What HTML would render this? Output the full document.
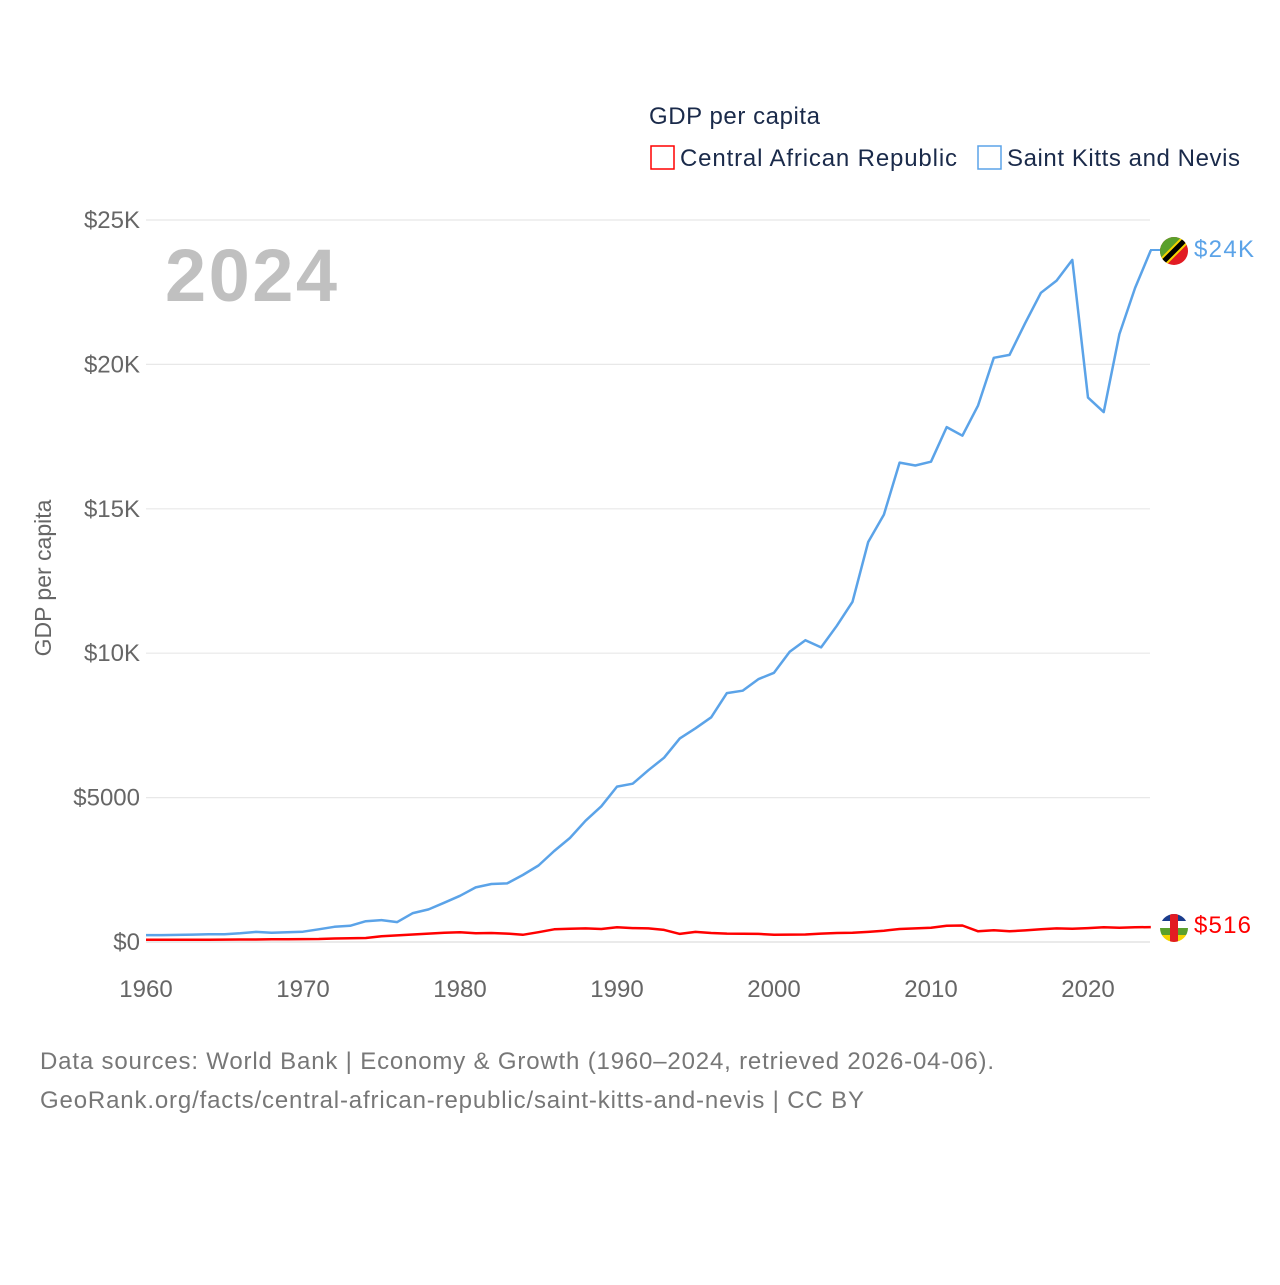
<!DOCTYPE html>
<html><head><meta charset="utf-8"><style>
html,body{margin:0;padding:0;background:#fff;}
svg text{font-family:"Liberation Sans",sans-serif;}
</style></head><body>
<svg id="chart" width="1280" height="1280" xmlns="http://www.w3.org/2000/svg">
<text x="649" y="124" font-size="24" fill="#1a2a4a" textLength="171">GDP per capita</text>
<rect x="651" y="146" width="23" height="23" fill="none" stroke="#ff0000" stroke-width="1.5"/>
<text x="680" y="166" font-size="24" fill="#1a2a4a" textLength="277">Central African Republic</text>
<rect x="978" y="146" width="23" height="23" fill="none" stroke="#5ba3e8" stroke-width="1.5"/>
<text x="1007" y="166" font-size="24" fill="#1a2a4a" textLength="233">Saint Kitts and Nevis</text>
<g id="grid"></g>
<text x="165" y="301" font-size="74" font-weight="bold" fill="#c0c0c0" textLength="172">2024</text>
<text transform="translate(51,578) rotate(-90)" text-anchor="middle" font-size="23" fill="#666">GDP per capita</text>
<g id="series"></g>
<line x1="1150" y1="250" x2="1162" y2="250" stroke="#5ba3e8" stroke-width="2"/>
<g>
<clipPath id="c1"><circle cx="1174" cy="251" r="14"/></clipPath>
<g clip-path="url(#c1)"><rect x="1160" y="237" width="28" height="28" fill="#e21b23"/><polygon points="1160,237 1188,237 1160,265" fill="#5aa02c"/><line x1="1158" y1="267" x2="1190" y2="235" stroke="#f4d400" stroke-width="9"/><line x1="1158" y1="267" x2="1190" y2="235" stroke="#000" stroke-width="5"/></g>
</g>
<g>
<clipPath id="c2"><circle cx="1174" cy="928" r="14"/></clipPath>
<g clip-path="url(#c2)"><rect x="1160" y="914" width="28" height="7" fill="#1b3c8c"/><rect x="1160" y="921" width="28" height="7" fill="#fff"/><rect x="1160" y="928" width="28" height="7" fill="#5aa02c"/><rect x="1160" y="935" width="28" height="7" fill="#f4d400"/><rect x="1170" y="914" width="8" height="28" fill="#e21b23"/></g>
</g>
<text x="1194" y="257" font-size="24" fill="#5ba3e8" textLength="60">$24K</text>
<text x="1194" y="933" font-size="24" fill="#ff0000" textLength="57">$516</text>
<text x="40" y="1069" font-size="24" fill="#777" textLength="954">Data sources: World Bank | Economy &amp; Growth (1960–2024, retrieved 2026-04-06).</text>
<text x="40" y="1108" font-size="24" fill="#777" textLength="824">GeoRank.org/facts/central-african-republic/saint-kitts-and-nevis | CC BY</text>
</svg>
<script>
const years = [];
for (let y = 1960; y <= 2024; y++) years.push(y);
const sknValues = [240,240,245,255,265,270,300,350,320,340,355,440,525,560,720,760,690,1000,1130,1360,1600,1890,2010,2030,2320,2650,3150,3600,4200,4700,5380,5480,5950,6380,7050,7400,7780,8620,8700,9100,9320,10050,10450,10200,10950,11780,13850,14800,16600,16500,16630,17830,17530,18580,20230,20330,21430,22480,22900,23620,18850,18350,21050,22650,23950];
const carValues = [80,80,78,78,80,82,85,88,92,95,100,105,120,130,140,200,230,260,290,320,340,300,310,290,250,340,440,460,470,450,510,480,470,420,280,350,310,290,285,280,250,255,260,290,310,320,350,390,450,470,490,560,570,370,410,370,400,440,470,460,480,510,490,510,516];
const yTicks = [0,5000,10000,15000,20000,25000];
const yTickLabels = ["$0","$5000","$10K","$15K","$20K","$25K"];
const xTicks = [1960,1970,1980,1990,2000,2010,2020];
const NS = "http://www.w3.org/2000/svg";
const xS = y => 146 + (y - 1960) * (1088 - 146) / 60;
const yS = v => 942 - v * (942 - 220) / 25000;
const grid = document.getElementById('grid');
yTicks.forEach((t, i) => {
  const l = document.createElementNS(NS, 'line');
  l.setAttribute('x1', 146); l.setAttribute('x2', 1150);
  l.setAttribute('y1', yS(t)); l.setAttribute('y2', yS(t));
  l.setAttribute('stroke', t === 0 ? '#ddd' : '#e8e8e8'); l.setAttribute('stroke-width', 1.2);
  
  
  grid.appendChild(l);
  const tx = document.createElementNS(NS, 'text');
  tx.setAttribute('x', 140); tx.setAttribute('y', yS(t) + 8);
  tx.setAttribute('text-anchor', 'end'); tx.setAttribute('font-size', '24'); tx.setAttribute('fill', '#666');
  tx.textContent = yTickLabels[i];
  
  
  grid.appendChild(tx);
});
xTicks.forEach(t => {
  const tx = document.createElementNS(NS, 'text');
  tx.setAttribute('x', xS(t)); tx.setAttribute('y', 997);
  tx.setAttribute('text-anchor', 'middle'); tx.setAttribute('font-size', '24'); tx.setAttribute('fill', '#666');
  tx.textContent = t;
  
  
  grid.appendChild(tx);
});
const series = document.getElementById('series');
function line(vals, color, name) {
  const p = document.createElementNS(NS, 'polyline');
  p.setAttribute('points', vals.map((v, i) => xS(years[i]).toFixed(1) + ',' + yS(v).toFixed(1)).join(' '));
  p.setAttribute('fill', 'none'); p.setAttribute('stroke', color); p.setAttribute('stroke-width', 2.5);
  p.setAttribute('stroke-linejoin', 'round');
  
  
  series.appendChild(p);
}
line(sknValues, '#5ba3e8', 'line-saint-kitts-and-nevis');
line(carValues, '#ff0000', 'line-central-african-republic');
</script>
</body></html>
